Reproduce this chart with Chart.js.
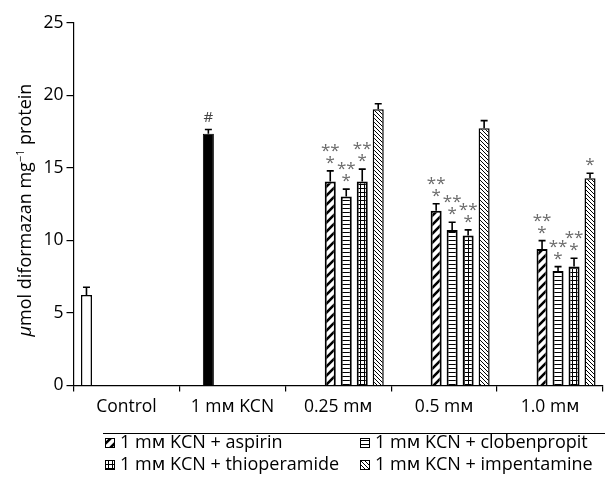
<!DOCTYPE html>
<html>
<head>
<meta charset="utf-8">
<script src="https://cdn.jsdelivr.net/npm/chart.js@4.4.1/dist/chart.umd.min.js"></script>
<style>
  html, body { margin: 0; padding: 0; background: #fff; }
  #wrap { width: 605px; height: 479px; }
</style>
</head>
<body>
<div id="wrap"><canvas id="myChart" width="605" height="479"></canvas></div>
<script>
// values
const categories = ['Control', '1 m\u1D0D KCN', '0.25 m\u1D0D', '0.5 m\u1D0D', '1.0 m\u1D0D'];
const yTicks = [0, 5, 10, 15, 20, 25];

const controlValues = [6.25, null, null, null, null];
const controlErrors = [0.53, null, null, null, null];
const kcnValues = [null, 17.36, null, null, null];
const kcnErrors = [null, 0.3, null, null, null];
const kcnMarks = ['', '#', '', '', ''];

const aspirinValues = [null, null, 14.07, 12.06, 9.42];
const aspirinErrors = [null, null, 0.73, 0.47, 0.57];
const aspirinMarks = ['', '', '**/*', '**/*', '**/*'];

const clobenpropitValues = [null, null, 13.03, 10.73, 7.9];
const clobenpropitErrors = [null, null, 0.51, 0.53, 0.3];
const clobenpropitMarks = ['', '', '**/*', '**/*', '**/*'];

const thioperamideValues = [null, null, 14.07, 10.34, 8.2];
const thioperamideErrors = [null, null, 0.85, 0.39, 0.58];
const thioperamideMarks = ['', '', '**/*', '**/*', '**/*'];

const impentamineValues = [null, null, 19.06, 17.75, 14.3];
const impentamineErrors = [null, null, 0.37, 0.52, 0.34];
const impentamineMarks = ['', '', '', '', '*'];

const legendLabels = [
  '1 m\u1D0D KCN + aspirin',
  '1 m\u1D0D KCN + clobenpropit',
  '1 m\u1D0D KCN + thioperamide',
  '1 m\u1D0D KCN + impentamine'
];

const fontFamily = '"Open Sans", "DejaVu Sans", sans-serif';

function makePattern(size, draw) {
  const c = document.createElement('canvas');
  c.width = size; c.height = size;
  const g = c.getContext('2d');
  g.fillStyle = '#fff';
  g.fillRect(0, 0, size, size);
  g.fillStyle = '#000';
  g.strokeStyle = '#000';
  draw(g, size);
  return g.createPattern(c, 'repeat');
}

const aspirinFill = makePattern(9, (g, s) => {
  g.lineWidth = 2.6;
  g.beginPath();
  g.moveTo(-1, s + 1); g.lineTo(s + 1, -1);
  g.moveTo(-2, 2); g.lineTo(2, -2);
  g.moveTo(s - 2, s + 2); g.lineTo(s + 2, s - 2);
  g.stroke();
});
const clobenpropitFill = makePattern(4, (g, s) => {
  g.fillRect(0, 0, s, 1);
});
const thioperamideFill = makePattern(4, (g, s) => {
  g.fillRect(0, 0, s, 1);
  g.fillRect(0, 0, 1, s);
});
const impentamineFill = makePattern(4, (g, s) => {
  for (let i = 0; i < s; i++) g.fillRect(i, i, 1, 1);
});

const legendFills = [aspirinFill, clobenpropitFill, thioperamideFill, impentamineFill];

// error bars and significance marks
const errorBars = {
  id: 'errorBars',
  afterDatasetsDraw(chart) {
    const ctx = chart.ctx;
    const y = chart.scales.y;
    ctx.save();
    chart.data.datasets.forEach((ds, i) => {
      const meta = chart.getDatasetMeta(i);
      meta.data.forEach((bar, j) => {
        const v = ds.data[j];
        if (v == null) return;
        const top = y.getPixelForValue(v + ds.errors[j]);
        ctx.strokeStyle = '#000';
        ctx.lineWidth = 1.6;
        ctx.beginPath();
        ctx.moveTo(bar.x, bar.y);
        ctx.lineTo(bar.x, top);
        ctx.moveTo(bar.x - 3.5, top);
        ctx.lineTo(bar.x + 3.5, top);
        ctx.stroke();
        const m = ds.marks && ds.marks[j];
        if (!m) return;
        const lines = m.split('/');
        ctx.textAlign = 'center';
        ctx.textBaseline = 'alphabetic';
        lines.forEach((t, k) => {
          const level = lines.length - k;
          if (t === '#') {
            ctx.fillStyle = '#444';
            ctx.font = '15px ' + fontFamily;
            ctx.fillText(t, bar.x, top - 7);
          } else {
            ctx.fillStyle = '#6a6a6a';
            ctx.font = '17px ' + fontFamily;
            ctx.fillText(t, bar.x, top - 12 * level + 9);
          }
        });
      });
    });
    ctx.restore();
  }
};

// rotated y-axis title with italic mu and superscript
const yTitle = {
  id: 'yTitle',
  afterDraw(chart) {
    const ctx = chart.ctx;
    const parts = [
      { t: '\u03BC', f: 'italic 18px ' + fontFamily, dy: 0 },
      { t: 'mol diformazan mg', f: '18px ' + fontFamily, dy: 0 },
      { t: '\u22121', f: '11px ' + fontFamily, dy: -7 },
      { t: ' protein', f: '18px ' + fontFamily, dy: 0 }
    ];
    let total = 0;
    parts.forEach(p => { ctx.font = p.f; p.w = ctx.measureText(p.t).width; total += p.w; });
    ctx.save();
    ctx.translate(31, 210);
    ctx.rotate(-Math.PI / 2);
    ctx.fillStyle = '#000';
    ctx.textBaseline = 'alphabetic';
    ctx.textAlign = 'left';
    let x = -total / 2;
    parts.forEach(p => { ctx.font = p.f; ctx.fillText(p.t, x, p.dy); x += p.w; });
    ctx.restore();
  }
};

// boxed legend under the axis
const boxLegend = {
  id: 'boxLegend',
  afterDraw(chart) {
    const ctx = chart.ctx;
    ctx.save();
    ctx.strokeStyle = '#000';
    ctx.lineWidth = 1.2;
    ctx.beginPath();
    ctx.moveTo(103, 433.5);
    ctx.lineTo(605, 433.5);
    ctx.stroke();
    const cols = [105, 360];
    const rows = [443, 465];
    ctx.font = '18px ' + fontFamily;
    ctx.textBaseline = 'middle';
    ctx.textAlign = 'left';
    legendLabels.forEach((label, i) => {
      const x = cols[i % 2], y = rows[Math.floor(i / 2)];
      ctx.fillStyle = legendFills[i];
      ctx.fillRect(x, y - 5, 10, 10);
      ctx.lineWidth = 1;
      ctx.strokeRect(x + 0.5, y - 4.5, 9, 9);
      ctx.fillStyle = '#000';
      ctx.fillText(label, x + 15, y);
    });
    ctx.restore();
  }
};

function series(values, errors, marks, fill, border) {
  return {
    data: values,
    errors: errors,
    marks: marks,
    backgroundColor: fill,
    borderColor: '#000',
    borderWidth: border,
    borderSkipped: 'bottom'
  };
}

const ctx = document.getElementById('myChart');

new Chart(ctx, {
  type: 'bar',
  data: {
    labels: categories,
    datasets: [
      series(controlValues, controlErrors, null, '#fff', 1.5),
      series(kcnValues, kcnErrors, kcnMarks, '#000', 1),
      series(aspirinValues, aspirinErrors, aspirinMarks, aspirinFill, 2),
      series(clobenpropitValues, clobenpropitErrors, clobenpropitMarks, clobenpropitFill, 2),
      series(thioperamideValues, thioperamideErrors, thioperamideMarks, thioperamideFill, 2),
      series(impentamineValues, impentamineErrors, impentamineMarks, impentamineFill, 1.5)
    ]
  },
  options: {
    responsive: false,
    animation: false,
    events: [],
    categoryPercentage: 0.906,
    barPercentage: 0.69,
    layout: { padding: { left: 0, right: 2, top: 23, bottom: 0 } },
    plugins: {
      legend: { display: false },
      tooltip: { enabled: false }
    },
    scales: {
      x: {
        grid: { display: true, drawOnChartArea: false, drawTicks: true, tickLength: 6, color: '#000', lineWidth: 1.2, offset: true },
        border: { display: true, color: '#000', width: 1.2 },
        ticks: { color: '#000', padding: 5, font: { family: fontFamily, size: 17.5 }, maxRotation: 0 },
        afterFit(scale) { scale.height = 93.5; }
      },
      y: {
        min: 0,
        max: 25,
        afterBuildTicks(scale) { scale.ticks = yTicks.map(v => ({ value: v })); },
        grid: { display: true, drawOnChartArea: false, drawTicks: true, tickLength: 7, color: '#000', lineWidth: 1.2 },
        border: { display: true, color: '#000', width: 1.2 },
        ticks: { color: '#000', padding: 3, font: { family: fontFamily, size: 17.5 } },
        afterFit(scale) { scale.width = 73.5; }
      }
    }
  },
  plugins: [errorBars, yTitle, boxLegend]
});
</script>
</body>
</html>
